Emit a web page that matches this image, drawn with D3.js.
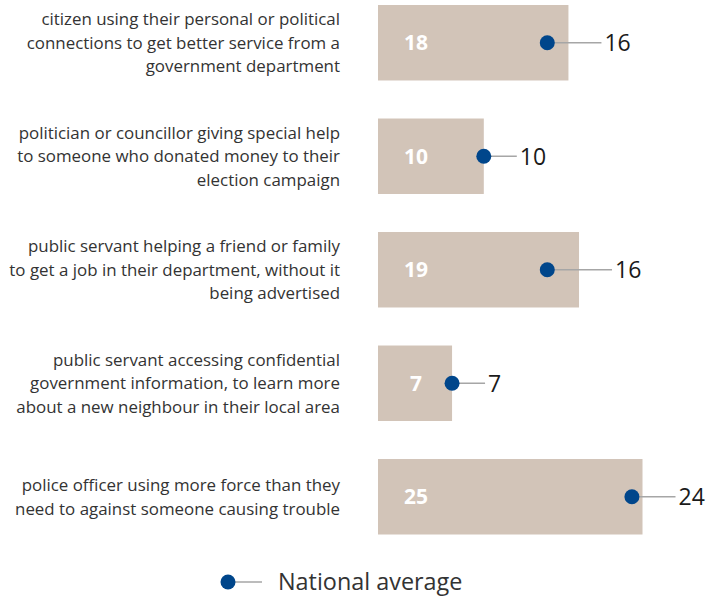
<!DOCTYPE html>
<html><head><meta charset="utf-8">
<script src="https://cdn.jsdelivr.net/npm/d3@7"></script>
<style>body{margin:0;background:#fff}svg{display:block}</style>
</head><body><svg id="c" width="710" height="598"></svg>
<script>
const categories = [
  ["citizen using their personal or political","connections to get better service from a","government department"],
  ["politician or councillor giving special help","to someone who donated money to their","election campaign"],
  ["public servant helping a friend or family","to get a job in their department, without it","being advertised"],
  ["public servant accessing confidential","government information, to learn more","about a new neighbour in their local area"],
  ["police officer using more force than they","need to against someone causing trouble"]
];
const localValues = [18, 10, 19, 7, 25];
const nationalAverage = [16, 10, 16, 7, 24];
const legendLabel = "National average";

const font = "'Open Sans', sans-serif";
const svg = d3.select("#c");
const x = d3.scaleLinear().domain([0, 25]).range([378, 642.5]);
const y = d3.scaleBand().domain(d3.range(categories.length)).range([5, 534.5]).paddingInner(0.335).paddingOuter(0);

const g = svg.append("g");
const rows = g.selectAll("g.row").data(categories.map((c,i)=>({c, v:localValues[i], n:nationalAverage[i]}))).join("g");

rows.append("rect")
  .attr("x", x(0)).attr("y", (d,i)=>y(i))
  .attr("width", d=>x(d.v)-x(0)).attr("height", y.bandwidth())
  .attr("fill", "#d2c4b8");

rows.append("text")
  .attr("x", x(0)+38).attr("y", (d,i)=>y(i)+y.bandwidth()/2)
  .attr("dy", "0.36em").attr("text-anchor", "middle")
  .attr("font-family", font).attr("font-weight", "bold").attr("font-size", 21)
  .attr("fill", "#fff").text(d=>d.v);

rows.append("line")
  .attr("x1", d=>x(d.n)).attr("x2", d=>Math.max(x(d.v), x(d.n))+33)
  .attr("y1", (d,i)=>y(i)+y.bandwidth()/2).attr("y2", (d,i)=>y(i)+y.bandwidth()/2)
  .attr("stroke", "#a6a6a6").attr("stroke-width", 1.5);

rows.append("circle")
  .attr("cx", d=>x(d.n)).attr("cy", (d,i)=>y(i)+y.bandwidth()/2)
  .attr("r", 7.5).attr("fill", "#00468b");

rows.append("text")
  .attr("x", d=>Math.max(x(d.v), x(d.n))+36).attr("y", (d,i)=>y(i)+y.bandwidth()/2)
  .attr("dy", "0.36em")
  .attr("font-family", font).attr("font-size", 23)
  .attr("fill", "#1a1a1a").text(d=>d.n);

const lh = 23.5;
rows.append("text")
  .attr("text-anchor", "end")
  .attr("font-family", font).attr("font-size", 16.9).attr("fill", "#333")
  .each(function(d,i){
    const cy = y(i)+y.bandwidth()/2;
    const n = d.c.length;
    d3.select(this).selectAll("tspan").data(d.c).join("tspan")
      .attr("x", 340)
      .attr("y", (t,j)=>cy + (j-(n-1)/2)*lh)
      .attr("dy", "0.36em")
      .text(t=>t);
  });

const lg = svg.append("g");
lg.append("line").attr("x1",228).attr("x2",262).attr("y1",582).attr("y2",582).attr("stroke","#a6a6a6").attr("stroke-width",1.5);
lg.append("circle").attr("cx",228).attr("cy",582).attr("r",7.5).attr("fill","#00468b");
lg.append("text").attr("x",278).attr("y",582).attr("dy","0.36em")
  .attr("font-family",font).attr("font-size",23.4).attr("fill","#333").text(legendLabel);
</script></body></html>
